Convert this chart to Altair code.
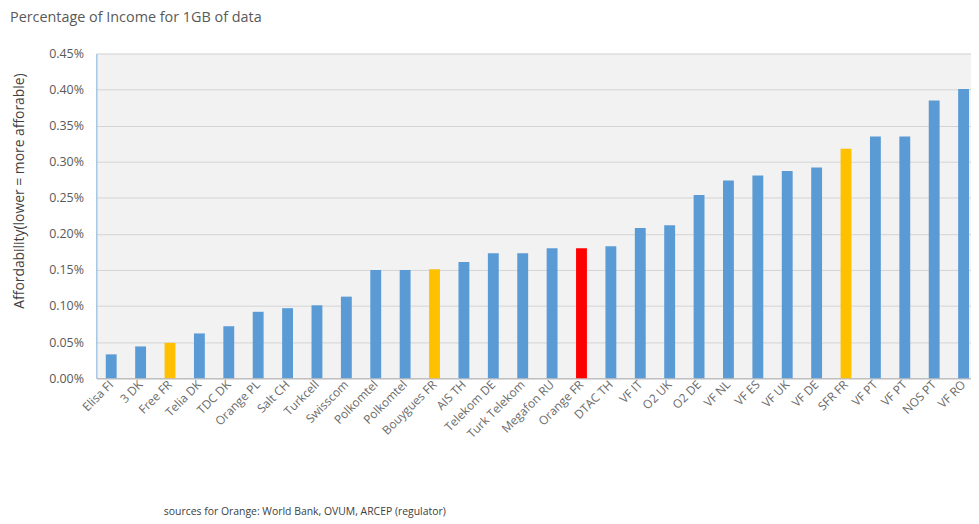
import json
import altair as alt
import pandas as pd

chart_title = "Percentage of Income for 1GB of data"
y_title = "Affordability(lower = more afforable)"
source_note = "sources for Orange: World Bank, OVUM, ARCEP (regulator)"

operators = ["Elisa FI", "3 DK", "Free FR", "Telia DK", "TDC DK", "Orange PL", "Salt CH",
             "Turkcell", "Swisscom", "Polkomtel", "Polkomtel", "Bouygues FR", "AIS TH",
             "Telekom DE", "Turk Telekom", "Megafon RU", "Orange FR", "DTAC TH", "VF IT",
             "O2 UK", "O2 DE", "VF NL", "VF ES", "VF UK", "VF DE", "SFR FR", "VF PT",
             "VF PT", "NOS PT", "VF RO"]
affordability = [0.033, 0.044, 0.049, 0.062, 0.072, 0.092, 0.097, 0.101, 0.113, 0.150,
                 0.150, 0.151, 0.161, 0.173, 0.173, 0.180, 0.180, 0.183, 0.208, 0.212,
                 0.254, 0.274, 0.281, 0.287, 0.292, 0.318, 0.335, 0.335, 0.385, 0.401]
highlight = ["other", "other", "competitor", "other", "other", "other", "other", "other",
             "other", "other", "other", "competitor", "other", "other", "other", "other",
             "orange", "other", "other", "other", "other", "other", "other", "other",
             "other", "competitor", "other", "other", "other", "other"]
y_ticks = [0.0, 0.05, 0.10, 0.15, 0.20, 0.25, 0.30, 0.35, 0.40, 0.45]

df = pd.DataFrame({"idx": list(range(len(operators))), "operator": operators,
                   "value": affordability, "group": highlight})

FONT = "Open Sans"
label_expr = json.dumps(operators) + "[datum.value]"

bars = alt.Chart(df).mark_bar().encode(
    x=alt.X("idx:O",
            scale=alt.Scale(paddingInner=0.63, paddingOuter=0.194, align=0.826),
            axis=alt.Axis(labelExpr=label_expr, title=None, labelAngle=-45,
                          labelAlign="right", labelBaseline="middle", ticks=False,
                          labelPadding=4, domainColor="#BFBFBF", domainWidth=1.5,
                          labelFontSize=12, labelColor="#6A6A6A", grid=False,
                          labelFont=FONT)),
    y=alt.Y("value:Q",
            scale=alt.Scale(domain=[0, 0.45]),
            axis=alt.Axis(values=y_ticks,
                          labelExpr="format(datum.value, '.2f') + '%'",
                          title=y_title, titleX=-77, titleY=138, titleAngle=270,
                          titleAlign="center", titleBaseline="middle",
                          titleFontSize=14, titleFontWeight="normal",
                          titleColor="#404040", titleFont=FONT,
                          labelFontSize=12.5, labelColor="#595959", labelFont=FONT,
                          labelPadding=13, ticks=False,
                          domainColor="#7FB0DD", grid=True, gridColor="#D4D4D4")),
    color=alt.Color("group:N",
                    scale=alt.Scale(domain=["other", "competitor", "orange"],
                                    range=["#5B9BD5", "#FFC000", "#FF0000"]),
                    legend=None),
)

title_text = alt.Chart(pd.DataFrame({"t": [chart_title]})).mark_text(
    align="left", baseline="middle", fontSize=14.5, color="#595959", font=FONT
).encode(x=alt.value(-87), y=alt.value(-36), text="t:N")

source_text = alt.Chart(pd.DataFrame({"t": [source_note]})).mark_text(
    align="left", baseline="middle", fontSize=10.5, color="#404040", font=FONT
).encode(x=alt.value(68), y=alt.value(462), text="t:N")

chart = alt.layer(bars, title_text, source_text).properties(
    width=881, height=327,
    padding={"left": 89, "top": 44, "right": 0, "bottom": 141},
    autosize=alt.AutoSizeParams(type="none"),
    background="white",
).configure_view(fill="#F2F2F2", stroke=None)

chart.save("out.html", embed_options={"renderer": "svg", "actions": False})
